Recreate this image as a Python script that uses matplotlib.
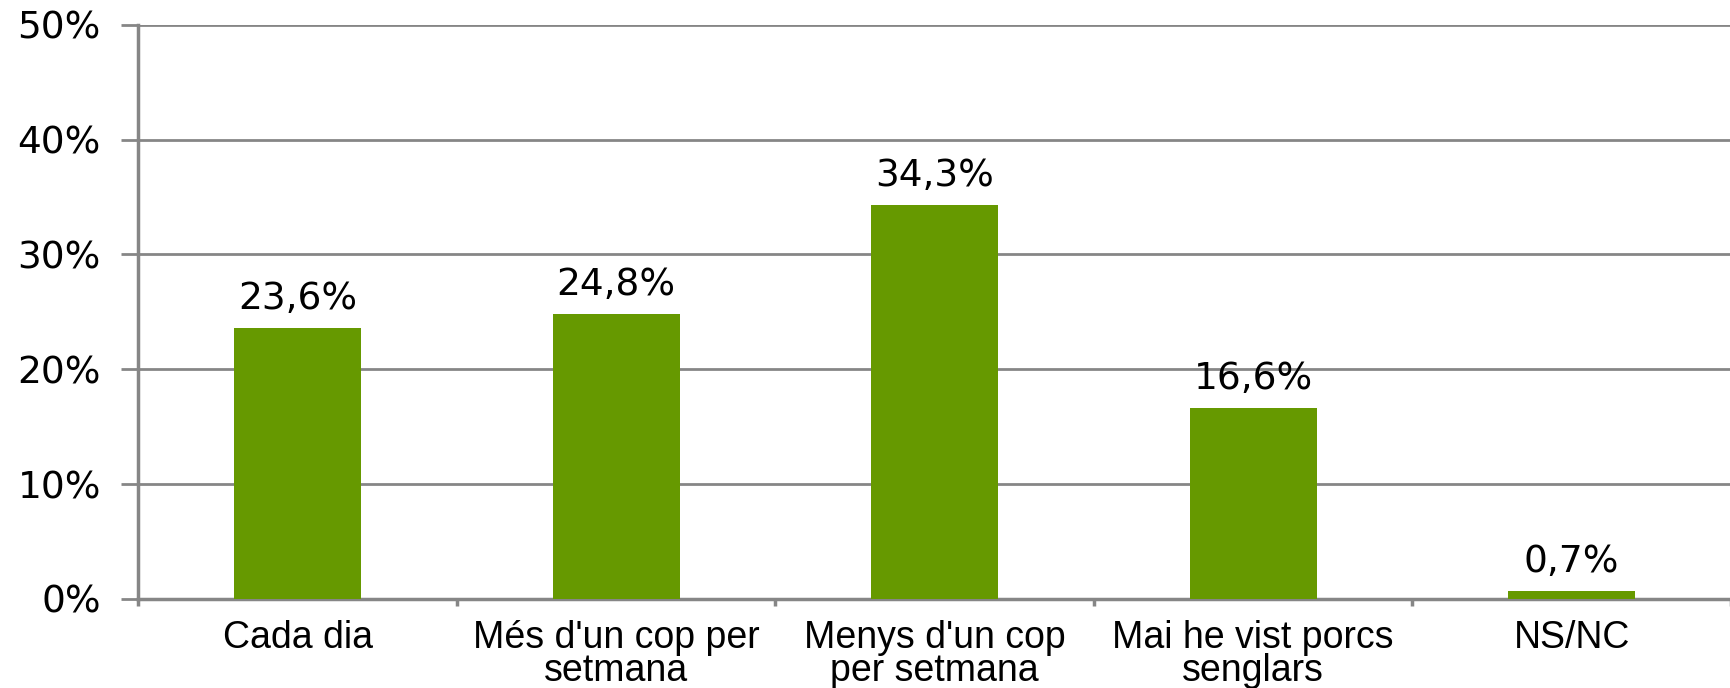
import matplotlib.pyplot as plt
import numpy as np

categories = ["Cada dia", "Més d'un cop per\nsetmana", "Menys d'un cop\nper setmana",
              "Mai he vist porcs\nsenglars", "NS/NC"]
values = [23.6, 24.8, 34.3, 16.6, 0.7]
value_labels = ["23,6%", "24,8%", "34,3%", "16,6%", "0,7%"]
yticks = [0, 10, 20, 30, 40, 50]

bar_color = "#669900"
grid_color = "#868686"

fig = plt.figure(figsize=(17.31, 6.88), dpi=100)
ax = fig.add_axes([0.080, 0.1294, 0.920, 0.8346])

x = np.arange(len(categories))
ax.bar(x, values, width=0.4, color=bar_color, zorder=3)

for xi, v, lab in zip(x, values, value_labels):
    ax.annotate(lab, (xi, v), xytext=(0, 8), textcoords="offset points",
                ha="center", va="bottom", fontsize=27, family="DejaVu Sans")

ax.set_xlim(-0.5, 4.446)
ax.set_ylim(0, 50)
ax.set_yticks(yticks)
ax.set_yticklabels([f"{t}%" for t in yticks], fontsize=27, family="DejaVu Sans")
ax.yaxis.grid(True, color=grid_color, linewidth=2, zorder=0)

ax.set_xticks(x)
ax.set_xticklabels(categories, fontsize=27, family="Liberation Sans", linespacing=0.9)
ax.set_xticks(np.arange(-0.5, 5, 1), minor=True)
ax.tick_params(axis="x", which="major", length=0, pad=15)
ax.tick_params(axis="x", which="minor", length=5, width=2.5, color=grid_color)
ax.tick_params(axis="y", length=12, width=2, color=grid_color, pad=15)

for side in ["top", "right"]:
    ax.spines[side].set_visible(False)
for side in ["left", "bottom"]:
    ax.spines[side].set_color(grid_color)
    ax.spines[side].set_linewidth(2.5)

fig.savefig("out.png", dpi=100)
